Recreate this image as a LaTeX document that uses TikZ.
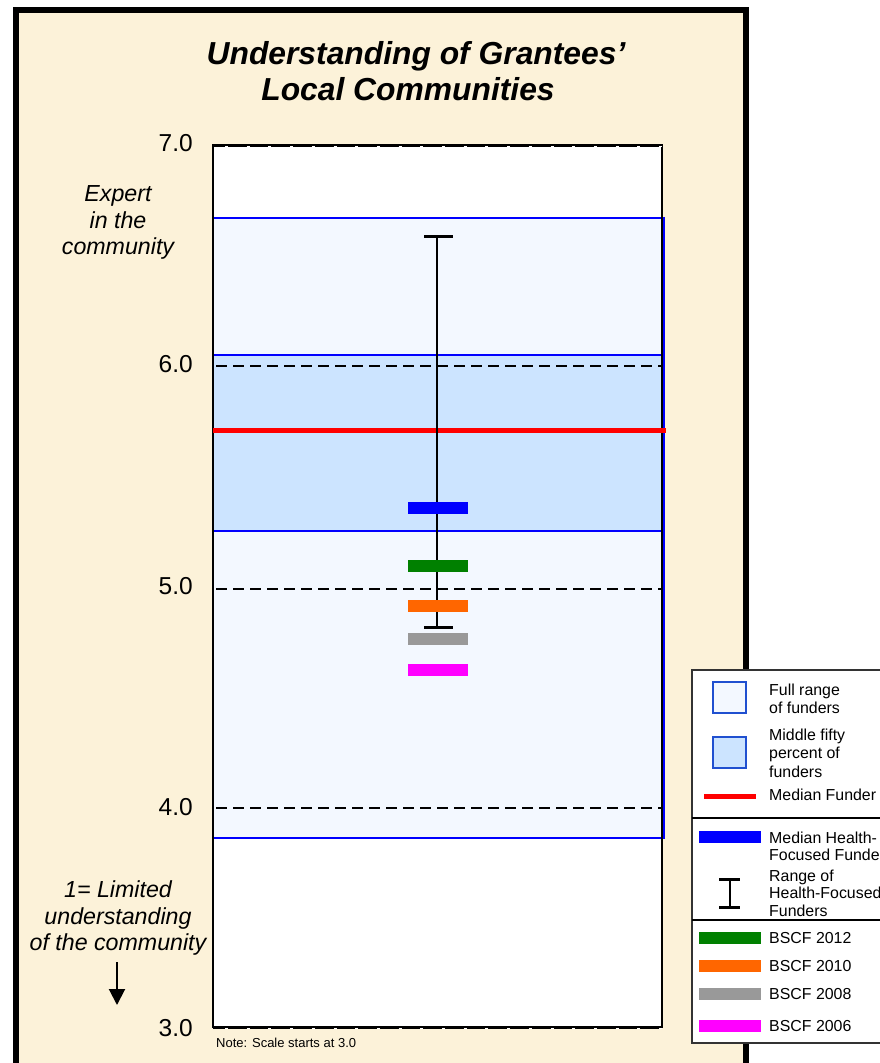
\documentclass[tikz,border=0pt]{standalone}
\usepackage{fontspec}
\setmainfont{Liberation Sans}
\usetikzlibrary{arrows.meta}

\definecolor{framebg}{HTML}{FCF2D9}
\definecolor{fullfill}{HTML}{F3F8FF}
\definecolor{midfill}{HTML}{CCE4FF}
\definecolor{rangeblue}{HTML}{0000FF}
\definecolor{keyblue}{HTML}{2050D0}
\definecolor{medred}{HTML}{FF0000}
\definecolor{c2012}{HTML}{008000}
\definecolor{c2010}{HTML}{FF6600}
\definecolor{c2008}{HTML}{999999}
\definecolor{c2006}{HTML}{FF00FF}

\tikzset{
  ticklabel/.style={anchor=east, inner sep=0pt, font=\fontsize{24.5}{28}\selectfont},
  sideline/.style={anchor=base, inner sep=0pt, font=\fontsize{23.2}{26.5}\selectfont\itshape},
  titleline/.style={anchor=base, inner sep=0pt, font=\fontsize{31.8}{36}\selectfont\bfseries\itshape},
  keytext/.style={anchor=base west, inner sep=0pt, font=\fontsize{15.9}{18}\selectfont},
  scorebar/.style={rectangle, inner sep=0pt, minimum width=60pt, minimum height=12pt},
  keybar/.style={rectangle, inner sep=0pt, minimum width=62pt, minimum height=12pt},
  keysquare/.style={rectangle, inner sep=0pt, minimum width=33pt, minimum height=31pt, draw=keyblue, line width=1.4pt},
  gridline/.style={black, line width=1.5pt, dash pattern=on 11pt off 6pt},
  rangebar/.style={black, line width=2pt},
  rangecap/.style={black, line width=3pt},
}

\begin{document}
\begin{tikzpicture}[x=1pt,y=-1pt]
\clip (0,0) rectangle (880,1063);
\fill[white] (0,0) rectangle (880,1063);

% outer frame
\draw[line width=6pt, fill=framebg] (16,9.5) rectangle (746,1068);

% title
\node[titleline] (title1) at (416,64) {Understanding of Grantees’};
\node[titleline] (title2) at (408,100) {Local Communities};

% plot area
\fill[white] (213,145) rectangle (662,1027);
\draw[rangeblue, line width=1.5pt, fill=fullfill] (213,218) rectangle (664,838);
\draw[rangeblue, line width=1.5pt, fill=midfill] (213,355) rectangle (664,531);

% grid lines
\draw[gridline] (216,366) -- (662,366);
\draw[gridline] (216,589) -- (662,589);
\draw[gridline] (216,808) -- (662,808);

% plot border
\draw[black, line width=2pt] (213,145) rectangle (662,1027);
\draw[black, line width=3pt] (213,145) -- (662,145);
\draw[black, line width=3pt] (213,1027) -- (662,1027);
\draw[white, line width=1.2pt, dash pattern=on 3pt off 18.7pt] (225,146.5) -- (662,146.5);
\draw[white, line width=1.2pt, dash pattern=on 3pt off 18.7pt] (225,1028.5) -- (662,1028.5);

% axis labels
\node[ticklabel] (t7) at (193,143) {7.0};
\node[ticklabel] (t6) at (193,364) {6.0};
\node[ticklabel] (t5) at (193,586) {5.0};
\node[ticklabel] (t4) at (193,807) {4.0};
\node[ticklabel] (t3) at (193,1028) {3.0};

% scale descriptions
\node[sideline] (hi1) at (118,201) {Expert};
\node[sideline] (hi2) at (118,228) {in the};
\node[sideline] (hi3) at (118,254) {community};
\node[sideline] (lo1) at (118,897) {1= Limited};
\node[sideline] (lo2) at (118,924) {understanding};
\node[sideline] (lo3) at (118,950) {of the community};
\coordinate (arrtop) at (117,962);
\coordinate (arrtip) at (117,1005);
\draw[black, line width=2pt, -{Triangle[width=16pt,length=16pt]}] (arrtop) -- (arrtip);

\node[anchor=base west, inner sep=0pt, font=\fontsize{13}{15}\selectfont] (note) at (216,1047) {Note: Scale starts at 3.0};

% median funder
\draw[medred, line width=5pt] (213,430) -- (666,430);

% range of health-focused funders
\coordinate (ebtop) at (437,236);
\coordinate (ebbot) at (437,627);
\draw[rangebar] (ebtop) -- (ebbot);
\draw[rangecap] (424,236) -- (453,236);
\draw[rangecap] (424,627) -- (453,627);

% scores
\node[scorebar, fill=rangeblue] (hmed) at (438,508) {};
\node[scorebar, fill=c2012] (s2012) at (438,566) {};
\node[scorebar, fill=c2010] (s2010) at (438,605.5) {};
\node[scorebar, fill=c2008] (s2008) at (438,638.5) {};
\node[scorebar, fill=c2006] (s2006) at (438,669.5) {};

% legend
\draw[fill=white, draw=black!80, line width=1.5pt] (692,670) rectangle (890,1043);
\draw[black, line width=2pt] (692,817.5) -- (880,817.5);
\draw[black, line width=2pt] (692,920) -- (880,920);

\node[keysquare, fill=fullfill] (kfull) at (729.5,697.5) {};
\node[keytext] (kfull1) at (769,695) {Full range};
\node[keytext] (kfull2) at (769,713) {of funders};

\node[keysquare, fill=midfill] (kmid) at (729.5,752.5) {};
\node[keytext] (kmid1) at (769,740) {Middle fifty};
\node[keytext] (kmid2) at (769,758) {percent of};
\node[keytext] (kmid3) at (769,777) {funders};

\coordinate (kredl) at (704,796);
\coordinate (kredr) at (756,796);
\draw[medred, line width=5pt] (kredl) -- (kredr);
\node[keytext] (kmedf) at (769,800) {Median Funder};

\node[keybar, fill=rangeblue] (khmed) at (730,837) {};
\node[keytext] (khmed1) at (769,843) {Median Health-};
\node[keytext] (khmed2) at (769,860) {Focused Funder};

\coordinate (kibtop) at (729.5,879);
\coordinate (kibbot) at (729.5,907);
\draw[black, line width=2pt] (kibtop) -- (kibbot);
\draw[rangecap] (719,879) -- (740,879);
\draw[rangecap] (719,907) -- (740,907);
\node[keytext] (krng1) at (769,881) {Range of};
\node[keytext] (krng2) at (769,898) {Health-Focused};
\node[keytext] (krng3) at (769,916) {Funders};

\node[keybar, fill=c2012] (k2012) at (730,938) {};
\node[keytext] (k2012t) at (769,943) {BSCF 2012};
\node[keybar, fill=c2010] (k2010) at (730,966) {};
\node[keytext] (k2010t) at (769,971) {BSCF 2010};
\node[keybar, fill=c2008] (k2008) at (730,994) {};
\node[keytext] (k2008t) at (769,999) {BSCF 2008};
\node[keybar, fill=c2006] (k2006) at (730,1026) {};
\node[keytext] (k2006t) at (769,1031) {BSCF 2006};
\end{tikzpicture}
\end{document}
